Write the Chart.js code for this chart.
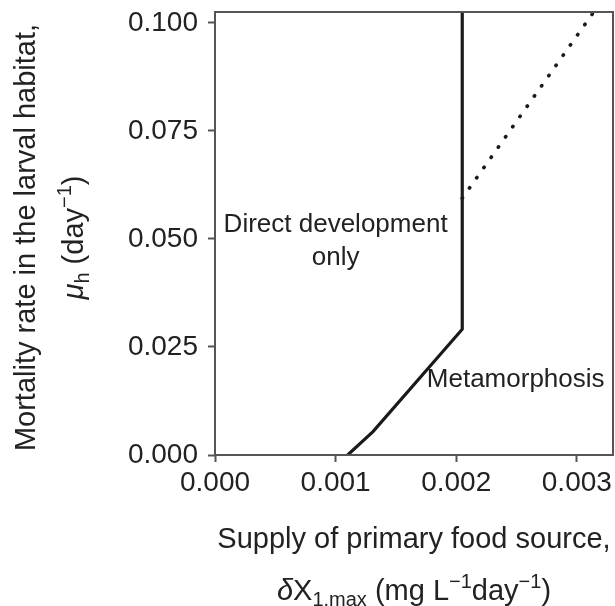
<!DOCTYPE html>
<html>
<head>
<meta charset="utf-8">
<script src="https://cdn.jsdelivr.net/npm/chart.js@4.4.1/dist/chart.umd.min.js"></script>
<style>
  html, body { margin: 0; padding: 0; background: #fff; }
</style>
</head>
<body>
<canvas id="chart" width="615" height="606"></canvas>
<script>
// axis ticks
const xTicks = [0, 0.001, 0.002, 0.003];
const yTicks = [0, 0.025, 0.05, 0.075, 0.1];

// solid boundary (direct development / metamorphosis)
const boundaryX = [0.0011, 0.00131, 0.00205, 0.00205];
const boundaryY = [0, 0.0054, 0.0291, 0.1025];

// dotted continuation
const dottedX = [0.00205, 0.00314];
const dottedY = [0.0594, 0.1025];

const regionLabels = [['Direct development', 'only'], ['Metamorphosis']];

const FONT = '"Liberation Sans", Arial, sans-serif';
const TEXT = '#222';
const AXIS = '#555';

function toPoints(xs, ys) {
    return xs.map((x, i) => ({ x: x, y: ys[i] }));
}

// draws a line of text with italic / sub / sup pieces, centred on cx
function drawRich(ctx, parts, size, cx, cy) {
    const fontOf = p => (p.italic ? 'italic ' : '') + Math.round(p.sup || p.sub ? size * 0.7 : size) + 'px ' + FONT;
    let total = 0;
    parts.forEach(p => { ctx.font = fontOf(p); total += ctx.measureText(p.t).width; });
    let x = cx - total / 2;
    parts.forEach(p => {
        ctx.font = fontOf(p);
        let dy = 0;
        if (p.sup) dy = -size * 0.4;
        if (p.sub) dy = size * 0.22;
        ctx.fillText(p.t, x, cy + dy);
        x += ctx.measureText(p.t).width;
    });
}

const decorations = {
    id: 'decorations',
    afterDraw(chart) {
        const ctx = chart.ctx;
        const a = chart.chartArea;
        const xs = chart.scales.x, ys = chart.scales.y;
        ctx.save();

        // frame
        ctx.strokeStyle = AXIS;
        ctx.lineWidth = 2;
        ctx.strokeRect(a.left, a.top, a.right - a.left, a.bottom - a.top);

        // region labels
        ctx.fillStyle = TEXT;
        ctx.textAlign = 'center';
        ctx.textBaseline = 'alphabetic';
        ctx.font = '26px ' + FONT;
        ctx.fillText(regionLabels[0][0], xs.getPixelForValue(0.001), ys.getPixelForValue(0.0517));
        ctx.fillText(regionLabels[0][1], xs.getPixelForValue(0.001), ys.getPixelForValue(0.0440));
        ctx.fillText(regionLabels[1][0], xs.getPixelForValue(0.002493), ys.getPixelForValue(0.01567));

        // axis titles
        const cxX = (a.left + a.right) / 2;
        ctx.font = '29px ' + FONT;
        ctx.textAlign = 'center';
        ctx.fillText('Supply of primary food source,', cxX, 548);
        ctx.textAlign = 'left';
        drawRich(ctx, [
            { t: '\u03b4', italic: true }, { t: 'X' }, { t: '1.max', sub: true },
            { t: ' (mg L' }, { t: '\u22121', sup: true }, { t: 'day' }, { t: '\u22121', sup: true }, { t: ')' }
        ], 29, cxX, 600);

        const cyY = (a.top + a.bottom) / 2 + 4;
        ctx.translate(0, cyY);
        ctx.rotate(-Math.PI / 2);
        ctx.font = '29px ' + FONT;
        ctx.textAlign = 'center';
        ctx.fillText('Mortality rate in the larval habitat,', 0, 35);
        ctx.textAlign = 'left';
        drawRich(ctx, [
            { t: '\u03bc', italic: true }, { t: 'h', sub: true },
            { t: ' (day' }, { t: '\u22121', sup: true }, { t: ')' }
        ], 29, 0, 83);
        ctx.restore();
    }
};

new Chart(document.getElementById('chart'), {
    type: 'scatter',
    data: {
        datasets: [
            {
                data: toPoints(boundaryX, boundaryY),
                showLine: true,
                borderColor: '#1a1a1a',
                borderWidth: 3.2,
                pointRadius: 0,
                tension: 0
            },
            {
                data: toPoints(dottedX, dottedY),
                showLine: true,
                borderColor: '#1a1a1a',
                borderWidth: 3.6,
                borderDash: [0.5, 12],
                borderCapStyle: 'round',
                pointRadius: 0
            }
        ]
    },
    options: {
        responsive: false,
        animation: false,
        devicePixelRatio: 1,
        layout: { padding: { top: 12, right: 2, left: 0, bottom: 0 } },
        plugins: { legend: { display: false }, tooltip: { enabled: false } },
        scales: {
            x: {
                type: 'linear',
                min: 0,
                max: 0.0033,
                afterBuildTicks: s => { s.ticks = xTicks.map(v => ({ value: v })); },
                afterFit: s => { s.height = 151; s.paddingLeft = 0; s.paddingRight = 0; },
                ticks: {
                    autoSkip: false,
                    maxRotation: 0,
                    padding: 4,
                    color: TEXT,
                    font: { size: 28, family: FONT },
                    callback: v => v.toFixed(3)
                },
                grid: { drawOnChartArea: false, tickLength: 7, tickWidth: 2, tickColor: AXIS },
                border: { display: false }
            },
            y: {
                type: 'linear',
                min: 0,
                max: 0.1025,
                afterBuildTicks: s => { s.ticks = yTicks.map(v => ({ value: v })); },
                afterFit: s => { s.width = 215; s.paddingTop = 0; s.paddingBottom = 0; },
                ticks: {
                    autoSkip: false,
                    padding: 10,
                    color: TEXT,
                    font: { size: 28, family: FONT },
                    callback: v => v.toFixed(3)
                },
                grid: { drawOnChartArea: false, tickLength: 7, tickWidth: 2, tickColor: AXIS },
                border: { display: false }
            }
        }
    },
    plugins: [decorations]
});
</script>
</body>
</html>
